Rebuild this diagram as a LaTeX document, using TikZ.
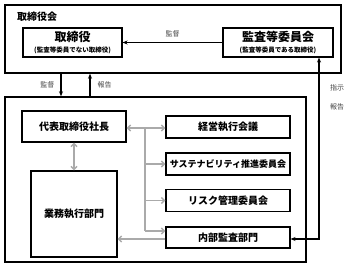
\documentclass[tikz,border=0pt]{standalone}
\usepackage{fontspec}
\setmainfont{Noto Sans CJK JP}
\usetikzlibrary{positioning, arrows.meta}
\definecolor{linkgray}{HTML}{AAAAAA}
\definecolor{labeltext}{HTML}{444444}

\begin{document}
\begin{tikzpicture}[
    x=1pt, y=-1pt,
    font=\bfseries\fontsize{10}{12}\selectfont,
    frame/.style={rectangle, draw=black, line width=1.4pt, inner sep=0pt},
    unit/.style={rectangle, draw=black, line width=1.1pt, fill=white, align=center, inner sep=0pt, minimum width=124pt, minimum height=22pt},
    flowlabel/.style={font=\mdseries\fontsize{7}{8}\selectfont, text=labeltext, inner sep=0pt},
    ctrl/.style={-{Stealth[length=5pt, width=4pt]}, line width=1.1pt, draw=black},
    link/.style={{Straight Barb[length=3pt, width=6pt]}-{Straight Barb[length=3pt, width=6pt]}, line width=1.5pt, draw=linkgray},
    linkone/.style={-{Straight Barb[length=3pt, width=6pt]}, line width=1.5pt, draw=linkgray}
]
    \useasboundingbox (0,0) rectangle (348,267);

    % Board of directors
    \node[frame, minimum width=336pt, minimum height=68pt] (board) at (173,39) {};
    \node[anchor=west, inner sep=0pt] (boardtitle) at (17,17) {取締役会};
    \node[unit, minimum width=99pt, minimum height=29pt] (directors) at (72.5,42.5)
        {{\fontsize{12}{14}\selectfont 取締役}\\[-1pt]{\fontsize{6.5}{7}\selectfont (監査等委員でない取締役)}};
    \node[unit, minimum width=110pt, minimum height=29pt] (auditcom) at (278,42.5)
        {{\fontsize{12}{14}\selectfont 監査等委員会}\\[-1pt]{\fontsize{6.5}{7}\selectfont (監査等委員である取締役)}};

    % Executive organisation
    \node[frame, minimum width=301pt, minimum height=165pt] (execframe) at (155.5,179.5) {};
    \node[unit, minimum width=104pt, minimum height=31pt] (president) at (74,126.5) {代表取締役社長};
    \node[unit, minimum width=86pt, minimum height=86pt] (business) at (74,214) {業務執行部門};
    \node[unit] (mgmt) at (228,127) {経営執行会議};
    \node[unit, font=\bfseries\fontsize{9}{11}\selectfont] (sustain) at (228,164) {サステナビリティ推進委員会};
    \node[unit] (risk) at (228,200.5) {リスク管理委員会};
    \node[unit, minimum height=21pt] (internal) at (228,237.5) {内部監査部門};

    % Board level arrows
    \draw[ctrl] (auditcom.west) -- (directors.east)
        node[flowlabel, midway, above=5pt] {監督};
    \draw[ctrl] (board.south -| 61,0) -- (execframe.north -| 61,0)
        node[flowlabel, midway, left=6pt] {監督};
    \draw[ctrl] (execframe.north -| 90,0) -- (board.south -| 90,0)
        node[flowlabel, midway, right=7pt] {報告};
    \coordinate (auditbend) at (319,239);
    \draw[ctrl, {Stealth[length=5pt, width=4pt]}-{Stealth[length=5pt, width=4pt]}]
        (internal.east |- auditbend) -- (auditbend) -- (auditcom.south -| auditbend);
    \node[flowlabel] (ordertext) at (337,88) {指示};
    \node[flowlabel] (reporttext) at (337,107) {報告};

    % Internal links
    \coordinate (bustop) at (145,128);
    \coordinate (busend) at (145,231);
    \draw[link] (president.east |- bustop) -- (mgmt.west |- bustop);
    \draw[line width=1.5pt, draw=linkgray] (bustop) -- (busend);
    \draw[linkone] (busend) -- (internal.west |- busend);
    \draw[linkone] (bustop |- sustain) -- (sustain.west);
    \draw[linkone] (bustop |- risk) -- (risk.west);
    \draw[link] (president.south) -- (business.north);
    \draw[linkone] (internal.west |- 0,239) -- (business.east |- 0,239);
\end{tikzpicture}
\end{document}
